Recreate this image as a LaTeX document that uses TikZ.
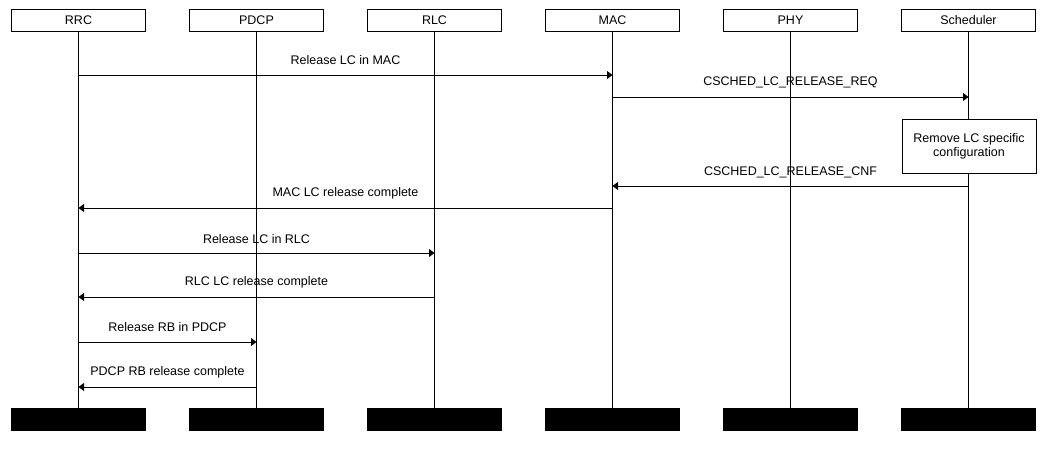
\documentclass[tikz,border=0pt]{standalone}
\usepackage{fontspec}
\setmainfont{Liberation Sans}
\usetikzlibrary{arrows.meta}
\begin{document}
\begin{tikzpicture}[x=1pt,y=-1pt,
  every node/.style={font=\fontsize{12.5}{14}\selectfont},
  head/.style={draw,line width=0.9pt,minimum width=134pt,minimum height=22pt,inner sep=0pt,anchor=north},
  foot/.style={draw,fill=black,line width=0.9pt,minimum width=134pt,minimum height=22pt,inner sep=0pt,anchor=north},
  life/.style={line width=0.9pt},
  msg/.style={line width=0.9pt,-{Triangle[length=5.5pt,width=8pt]}},
  lbl/.style={inner sep=0pt,anchor=center},
  note/.style={draw,fill=white,line width=0.9pt,minimum width=134pt,minimum height=54pt,align=center,inner sep=0pt}]
\useasboundingbox (0,0) rectangle (1061,448);
% heads
\foreach \n/\t [count=\i from 0] in {rrc/RRC,pdcp/PDCP,rlc/RLC,mac/MAC,phy/PHY,sch/Scheduler}{
  \node[head] (\n) at ({78.5+178*\i},9) {\t};
  \node[foot] (\n f) at ({78.5+178*\i},408) {};
  \draw[life] (\n.south) -- (\n f.north);
}
% note
\node[note] (rm) at (969,146) {Remove LC specific\\configuration};
% messages
\draw[msg] (rrc |- 0,75) -- node[lbl,yshift=15pt] {Release LC in MAC} (mac |- 0,75);
\draw[msg] (mac |- 0,97) -- node[lbl,yshift=15pt] {CSCHED\_LC\_RELEASE\_REQ} (sch |- 0,97);
\draw[msg] (sch |- 0,186) -- node[lbl,yshift=14pt] {CSCHED\_LC\_RELEASE\_CNF} (mac |- 0,186);
\draw[msg] (mac |- 0,208) -- node[lbl,yshift=15pt] {MAC LC release complete} (rrc |- 0,208);
\draw[msg] (rrc |- 0,253) -- node[lbl,yshift=14pt] {Release LC in RLC} (rlc |- 0,253);
\draw[msg] (rlc |- 0,297) -- node[lbl,yshift=15pt] {RLC LC release complete} (rrc |- 0,297);
\draw[msg] (rrc |- 0,342) -- node[lbl,yshift=15pt] {Release RB in PDCP} (pdcp |- 0,342);
\draw[msg] (pdcp |- 0,387) -- node[lbl,yshift=15pt] {PDCP RB release complete} (rrc |- 0,387);
\end{tikzpicture}
\end{document}
